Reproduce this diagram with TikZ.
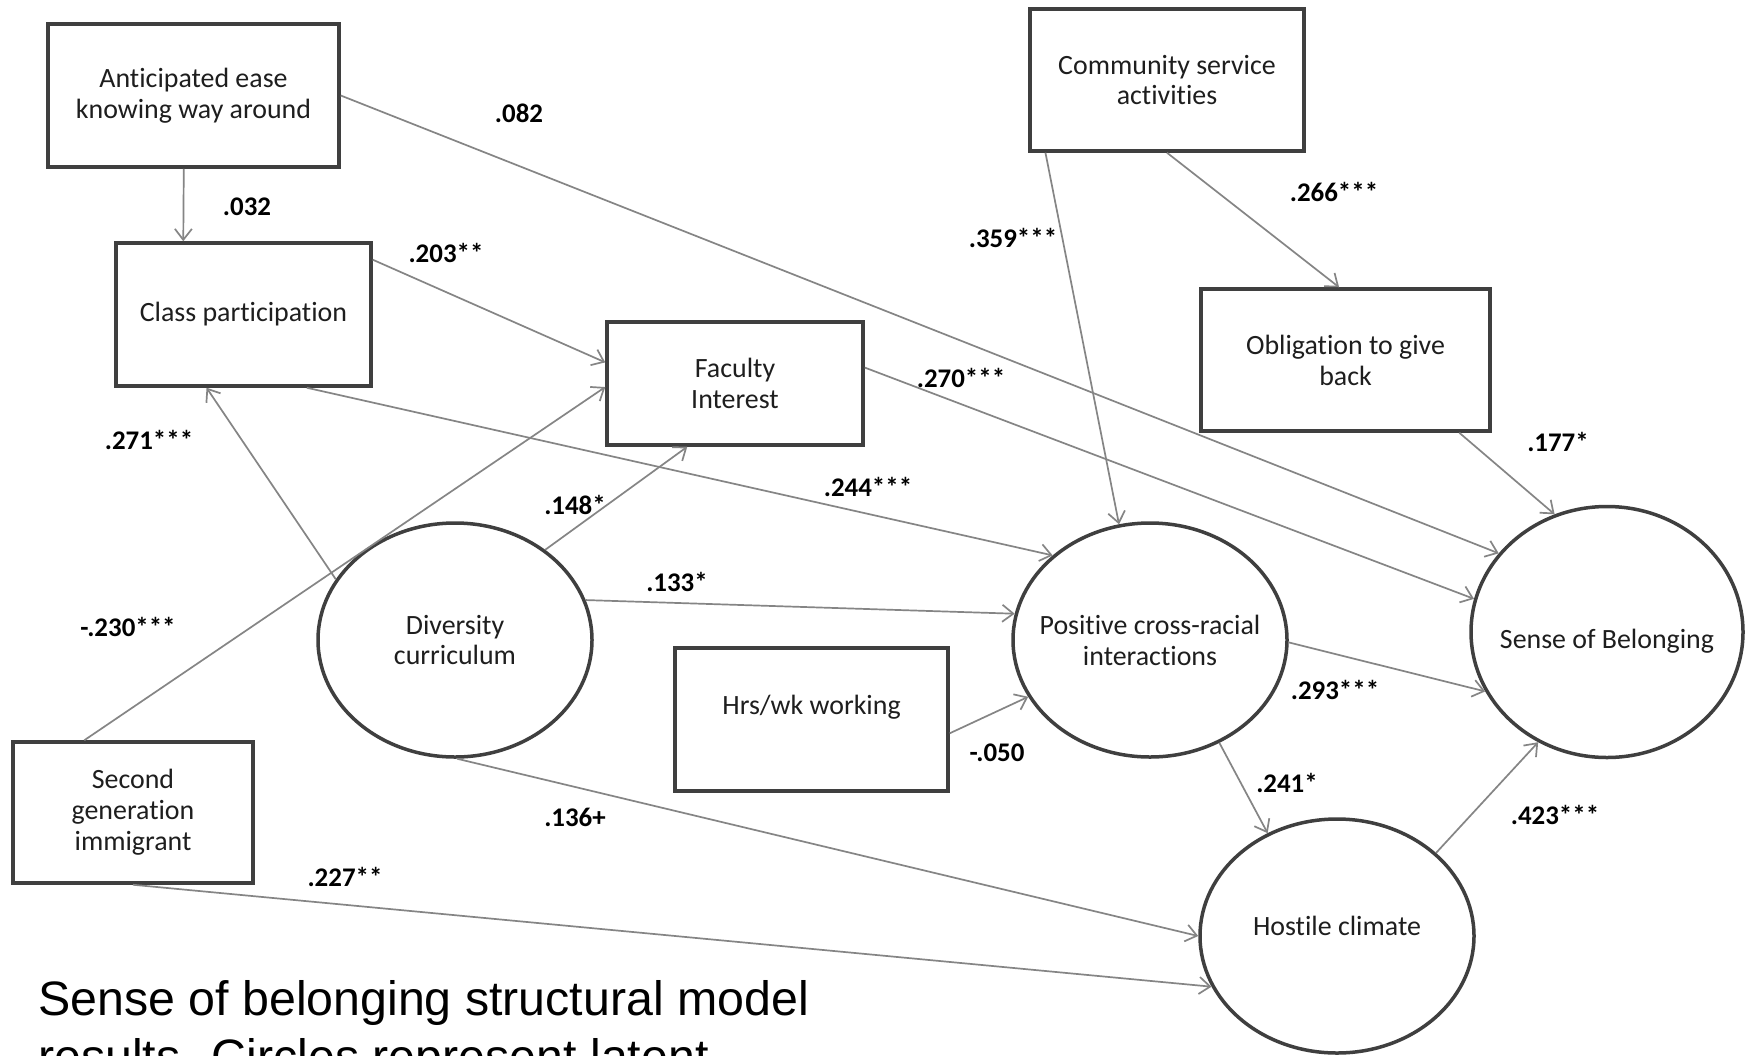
\documentclass[tikz,border=0pt]{standalone}
\usepackage{fontspec}
\setmainfont{Carlito}[Ligatures=NoCommon]
\newfontfamily\capfam{Liberation Sans}
\usetikzlibrary{shapes.geometric,arrows.meta,calc}
\definecolor{boxc}{HTML}{3F3F3F}
\definecolor{arrc}{HTML}{858585}
\definecolor{txtc}{HTML}{1E1E1E}
\newcommand\bxfont{\fontsize{28}{31}\selectfont}
\newcommand\lbfont{\bfseries\fontsize{27}{30}\selectfont}
\newcommand\cpfont{\capfam\fontsize{48.5}{57}\selectfont}
\tikzset{
  box/.style={draw=boxc, line width=3.5bp, inner sep=0pt, align=center, font=\bxfont, text=txtc},
  ell/.style={ellipse, draw=boxc, line width=3.5bp, inner sep=0pt},
  bxtxt/.style={align=center, font=\bxfont, text=txtc, inner sep=0pt},
  conn/.style={draw=arrc, line width=1.7bp, -{Straight Barb[length=11bp,width=17bp,line width=1.7bp]}},
  lbl/.style={font=\lbfont, text=black, inner sep=0pt},
  capt/.style={font=\cpfont, text=black, inner sep=0pt, anchor=base west}
}
\begin{document}
\begin{tikzpicture}[x=1bp,y=-1bp]
\useasboundingbox (0,0) rectangle (1745,1055);
\fill[white] (0,0) rectangle (1745,1055);
\clip (0,0) rectangle (1745,1055);

% rectangles
\node[box, minimum width=291bp, minimum height=143bp] (ant) at (193.5,95.5) {Anticipated ease\\knowing way around};
\node[box, minimum width=255bp, minimum height=143bp] (cls) at (243.5,314.5) {Class participation};
\node[box, minimum width=256bp, minimum height=123bp] (fac) at (735,383.5) {Faculty\\Interest};
\node[box, minimum width=274bp, minimum height=142bp] (com) at (1167,80) {Community service\\activities};
\node[box, minimum width=289bp, minimum height=142bp] (obl) at (1345.5,360) {Obligation to give\\back};
\node[box, minimum width=273bp, minimum height=143bp,
      label={[bxtxt,yshift=12bp,name=hrstxt]center:Hrs/wk working}] (hrs) at (811.5,719.5) {};
\node[box, minimum width=240bp, minimum height=141bp] (sec) at (133,812.5) {Second\\generation\\immigrant};

% ellipses
\node[ell, minimum width=274bp, minimum height=234bp,
      label={[bxtxt,name=divtxt]center:Diversity\\curriculum}] (div) at (455,640) {};
\node[ell, minimum width=274bp, minimum height=234bp,
      label={[bxtxt,name=postxt]center:Positive cross-racial\\interactions}] (pos) at (1150,640) {};
\node[ell, minimum width=272bp, minimum height=251bp,
      label={[bxtxt,yshift=-9bp,name=sobtxt]center:Sense of Belonging}] (sob) at (1607,632) {};
\node[ell, minimum width=274bp, minimum height=234bp,
      label={[bxtxt,yshift=10bp,name=hostxt]center:Hostile climate}] (hos) at (1337,936) {};

% connectors
\draw[conn] ($(ant.south west)!0.467!(ant.south east)$) -- ($(cls.north west)!0.267!(cls.north east)$);
\draw[conn] (ant.east) -- (sob.144.5);
\draw[conn] ($(cls.north east)!0.126!(cls.south east)$) -- ($(fac.north west)!0.333!(fac.south west)$);
\draw[conn] ($(cls.south west)!0.745!(cls.south east)$) -- (pos.139.7);
\draw[conn] (div.153.4) -- ($(cls.south west)!0.357!(cls.south east)$);
\draw[conn] (div.45) -- ($(fac.south west)!0.316!(fac.south east)$);
\draw[conn] ($(sec.north west)!0.3!(sec.north east)$) -- ($(fac.north west)!0.528!(fac.south west)$);
\draw[conn] (div.17.1) -- (pos.169.7);
\draw[conn] (div.-89) -- (hos.180);
\draw[conn] (sec.south) -- (hos.202.8);
\draw[conn] ($(fac.north east)!0.374!(fac.south east)$) -- (sob.166.9);
\draw[conn] ($(com.south west)!0.062!(com.south east)$) -- (pos.105.6);
\draw[conn] (com.south) -- ($(obl.north west)!0.478!(obl.north east)$);
\draw[conn] ($(obl.south west)!0.889!(obl.south east)$) -- (sob.114.9);
\draw[conn] ($(hrs.north east)!0.594!(hrs.south east)$) -- (pos.205);
\draw[conn] (pos.-1) -- (sob.206.9);
\draw[conn] (pos.-56.3) -- (hos.124);
\draw[conn] (hos.40.6) -- (sob.238.6);

% path labels
\node[lbl] (l01) at (247,207) {.032};
\node[lbl] (l02) at (519,113) {.082};
\node[lbl] (l03) at (446,253) {.203**};
\node[lbl] (l04) at (868,487) {.244***};
\node[lbl] (l05) at (149,440) {.271***};
\node[lbl] (l06) at (575,505) {.148*};
\node[lbl] (l07) at (128,627) {-.230***};
\node[lbl] (l08) at (677,582) {.133*};
\node[lbl] (l09) at (575,817) {.136+};
\node[lbl] (l10) at (345,877) {.227**};
\node[lbl] (l11) at (961,378) {.270***};
\node[lbl] (l12) at (1013,238) {.359***};
\node[lbl] (l13) at (1334,192) {.266***};
\node[lbl] (l14) at (1558,442) {.177*};
\node[lbl] (l15) at (997,753) {-.050};
\node[lbl] (l16) at (1335,690) {.293***};
\node[lbl] (l17) at (1287,783) {.241*};
\node[lbl] (l18) at (1555,815) {.423***};

% caption (cut off at the lower edge, as in the reference)
\node[capt] (cap1) at (38,1015) {Sense of belonging structural model};
\node[capt] (cap2) at (38,1073) {results. Circles represent latent};
\end{tikzpicture}
\end{document}
